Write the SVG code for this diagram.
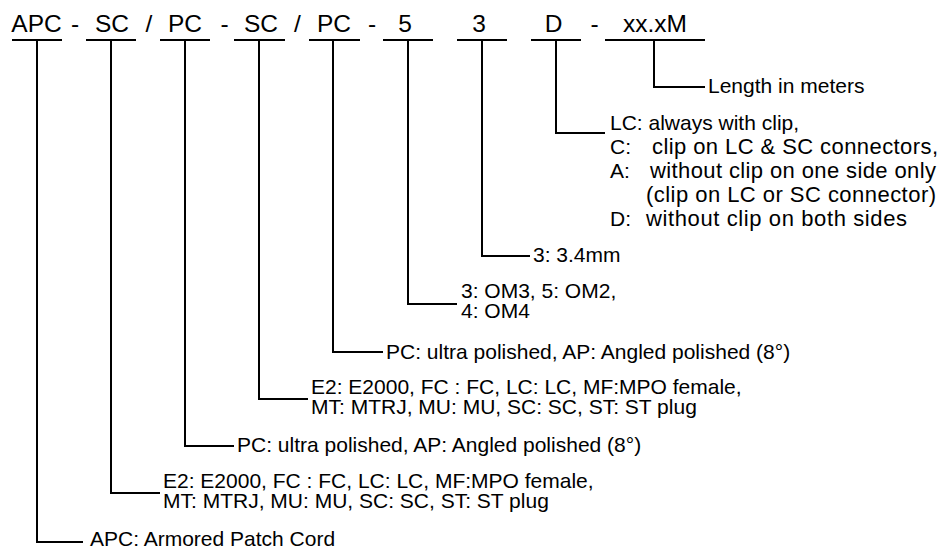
<svg xmlns="http://www.w3.org/2000/svg" width="947" height="549" viewBox="0 0 947 549">
<style>
.code{font-family:"Liberation Sans",Arial,sans-serif;font-size:24.5px;fill:#000;text-anchor:middle}
.lbl{font-family:"Liberation Sans",Arial,sans-serif;font-size:21px;fill:#000}
.big{font-size:22px}
.ul{stroke:#000;stroke-width:2;fill:none}
.con{stroke:#000;stroke-width:2;fill:none}
</style>
<rect width="947" height="549" fill="#fff"/>
<g id="code">
  <g id="tok-apc"><text class="code" x="36.5" y="32">APC</text><line class="ul" x1="12" y1="40" x2="62" y2="40"/></g>
  <text class="code" x="75" y="32">-</text>
  <g id="tok-sc1"><text class="code" x="112" y="32">SC</text><line class="ul" x1="86" y1="40" x2="136" y2="40"/></g>
  <text class="code" x="149" y="32">/</text>
  <g id="tok-pc1"><text class="code" x="185" y="32">PC</text><line class="ul" x1="160" y1="40" x2="210" y2="40"/></g>
  <text class="code" x="224.5" y="32">-</text>
  <g id="tok-sc2"><text class="code" x="261" y="32">SC</text><line class="ul" x1="234" y1="40" x2="285" y2="40"/></g>
  <text class="code" x="297.5" y="32">/</text>
  <g id="tok-pc2"><text class="code" x="334" y="32">PC</text><line class="ul" x1="309" y1="40" x2="360" y2="40"/></g>
  <text class="code" x="372" y="32">-</text>
  <g id="tok-5"><text class="code" x="405" y="32">5</text><line class="ul" x1="383" y1="40" x2="433" y2="40"/></g>
  <g id="tok-3"><text class="code" x="479" y="32">3</text><line class="ul" x1="457" y1="40" x2="507" y2="40"/></g>
  <g id="tok-d"><text class="code" x="553.5" y="32">D</text><line class="ul" x1="531" y1="40" x2="581" y2="40"/></g>
  <text class="code" x="594.5" y="32">-</text>
  <g id="tok-len"><text class="code" x="655" y="32">xx.xM</text><line class="ul" x1="605" y1="40" x2="705" y2="40"/></g>
</g>
<g id="connectors">
  <path class="con" d="M654 40 V87 H705"/>
  <path class="con" d="M556 40 V133 H605"/>
  <path class="con" d="M482 40 V256 H530"/>
  <path class="con" d="M408 40 V304 H457"/>
  <path class="con" d="M333 40 V352 H383"/>
  <path class="con" d="M259 40 V399 H308"/>
  <path class="con" d="M185 40 V446 H234"/>
  <path class="con" d="M111 40 V493 H160"/>
  <path class="con" d="M37 40 V542 H83"/>
</g>
<g id="label-len"><text class="lbl" x="708" y="93">Length in meters</text></g>
<g id="label-d">
  <text class="lbl" x="610" y="130">LC: always with clip,</text>
  <text class="lbl" y="154"><tspan x="610">C:</tspan><tspan class="big" x="652" textLength="286">clip on LC &amp; SC connectors,</tspan></text>
  <text class="lbl" y="178"><tspan x="610">A:</tspan><tspan class="big" x="650" textLength="286">without clip on one side only</tspan></text>
  <text class="lbl big" x="646" y="202" textLength="290">(clip on LC or SC connector)</text>
  <text class="lbl" y="226"><tspan x="610">D:</tspan><tspan class="big" x="646" textLength="261">without clip on both sides</tspan></text>
</g>
<g id="label-3"><text class="lbl" x="533" y="262">3: 3.4mm</text></g>
<g id="label-5">
  <text class="lbl" x="461" y="298">3: OM3, 5: OM2,</text>
  <text class="lbl" x="461" y="318">4: OM4</text>
</g>
<g id="label-pc2"><text class="lbl" x="386" y="359">PC: ultra polished, AP: Angled polished (8°)</text></g>
<g id="label-sc2">
  <text class="lbl" x="311" y="394">E2: E2000, FC : FC, LC: LC, MF:MPO female,</text>
  <text class="lbl" x="311" y="414">MT: MTRJ, MU: MU, SC: SC, ST: ST plug</text>
</g>
<g id="label-pc1"><text class="lbl" x="237" y="452">PC: ultra polished, AP: Angled polished (8°)</text></g>
<g id="label-sc1">
  <text class="lbl" x="163" y="488">E2: E2000, FC : FC, LC: LC, MF:MPO female,</text>
  <text class="lbl" x="163" y="508">MT: MTRJ, MU: MU, SC: SC, ST: ST plug</text>
</g>
<g id="label-apc"><text class="lbl" x="90" y="546">APC: Armored Patch Cord</text></g>
</svg>
